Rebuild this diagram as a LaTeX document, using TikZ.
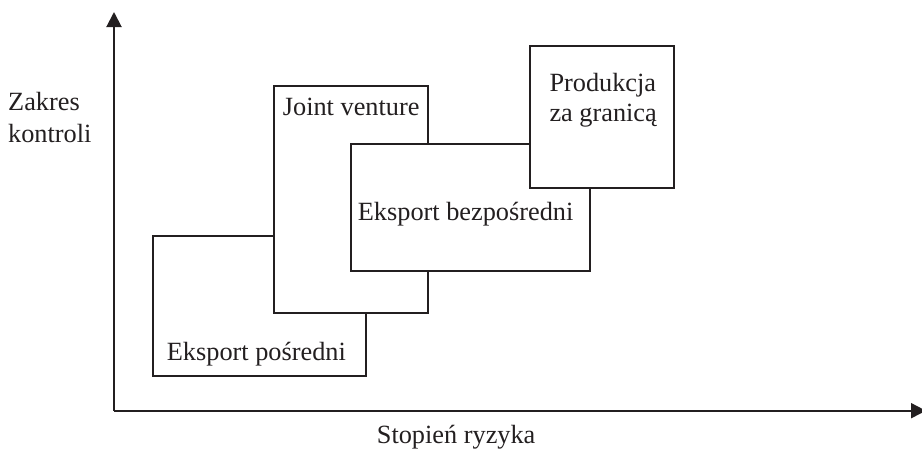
\documentclass[tikz,border=0pt]{standalone}
\usepackage{fontspec}
\setmainfont{Liberation Serif}
\usetikzlibrary{arrows.meta}
\definecolor{ink}{HTML}{231F20}
\begin{document}
\begin{tikzpicture}[x=1pt,y=-1pt,
  box/.style={draw=ink,line width=2pt,fill=white,rectangle,inner sep=0pt},
  lbl/.style={anchor=base west,inner sep=0pt,text=ink,font=\fontsize{26.3pt}{30pt}\selectfont},
  axis/.style={draw=ink,line width=2pt,-{Triangle[length=15pt,width=15pt]}}]
\useasboundingbox (0,0) rectangle (922,448);
% axes
\coordinate (o) at (114,410.7);
\coordinate (ytop) at (114,12);
\coordinate (xend) at (926,410.7);
\draw[axis] (o) -- (ytop);
\draw[axis] (o) -- (xend);
% boxes
\node[box,minimum width=213pt,minimum height=140.3pt] (ep) at (259.2,305.85) {};
\node[box,minimum width=153.4pt,minimum height=227pt] (jv) at (351,199.2) {};
\node[box,minimum width=238.9pt,minimum height=127pt] (eb) at (470.15,207.5) {};
\node[box,minimum width=144pt,minimum height=142.3pt] (pz) at (602,117.15) {};
% labels
\node[lbl] (t1) at (8,110) {Zakres};
\node[lbl] (t2) at (8,142) {kontroli};
\node[lbl] (t3) at (282.7,115) {Joint venture};
\node[lbl] (t4) at (549.3,91.7) {Produkcja};
\node[lbl] (t5) at (549.3,121.7) {za granicą};
\node[lbl] (t6) at (357.7,220) {Eksport bezpośredni};
\node[lbl] (t7) at (166.7,360) {Eksport pośredni};
\node[lbl] (t8) at (376.7,443) {Stopień ryzyka};
\end{tikzpicture}
\end{document}
